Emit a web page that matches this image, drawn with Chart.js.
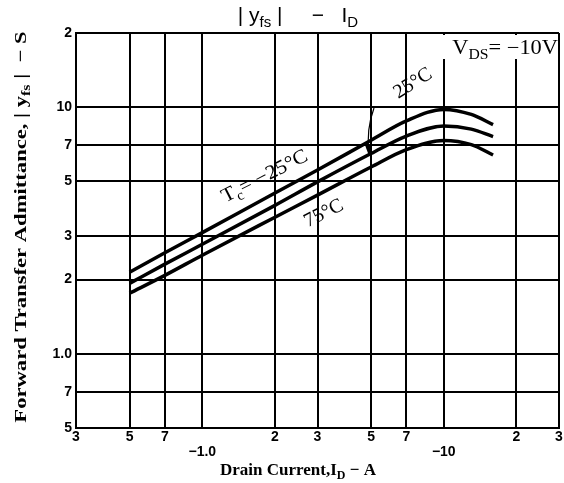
<!DOCTYPE html>
<html>
<head>
<meta charset="utf-8">
<script src="https://cdn.jsdelivr.net/npm/chart.js@4/dist/chart.umd.min.js"></script>
<style>
  html, body { margin: 0; padding: 0; background: #fff; }
  #wrap { width: 564px; height: 483px; }
</style>
</head>
<body>
<div id="wrap"><canvas id="myChart" width="564" height="483"></canvas></div>
<script>
// drain current (A, magnitude) and |yfs| (S) per case temperature
const currentA = [0.5, 0.7, 1, 2, 3, 5, 7, 10, 13, 16];
const tcMinus25 = [2.14, 2.57, 3.1, 4.49, 5.56, 7.35, 8.8, 9.8, 9.35, 8.5];
const tc25 = [1.93, 2.31, 2.78, 4.0, 4.98, 6.49, 7.64, 8.4, 8.15, 7.6];
const tc75 = [1.76, 2.08, 2.51, 3.58, 4.4, 5.72, 6.73, 7.33, 7.05, 6.4];

const xTicks = [0.3, 0.5, 0.7, 1, 2, 3, 5, 7, 10, 20, 30];
const xTickLabels = ["3", "5", "7", ["", "−1.0"], "2", "3", "5", "7", ["", "−10"], "2", "3"];
const yTicks = [0.5, 0.7, 1, 2, 3, 5, 7, 10, 20];
const yTickLabels = ["5", "7", "1.0", "2", "3", "5", "7", "10", "2"];

const toPoints = (ys) => currentA.map((x, i) => ({ x: x, y: ys[i] }));

// draws text with subscripts, parts = [[text, isSub], ...]; sx stretches it sideways
function drawRich(ctx, parts, x, y, size, family, weight, align, sx, subRatio) {
  sx = sx || 1;
  subRatio = subRatio || 0.7;
  const fontOf = (p) => weight + " " + (p[1] ? Math.round(size * subRatio) : size) + "px " + family;
  const widths = parts.map((p) => {
    ctx.font = fontOf(p);
    return ctx.measureText(p[0]).width;
  });
  const total = widths.reduce((a, b) => a + b, 0);
  let cx = align === "center" ? -total / 2 : align === "right" ? -total : 0;
  ctx.save();
  ctx.translate(x, y);
  ctx.scale(sx, 1);
  ctx.textAlign = "left";
  ctx.textBaseline = "alphabetic";
  parts.forEach((p, i) => {
    ctx.font = fontOf(p);
    ctx.fillText(p[0], cx, p[1] ? size * 0.25 : 0);
    cx += widths[i];
  });
  ctx.restore();
}

const labelsPlugin = {
  id: "labels",
  afterDraw(chart) {
    const ctx = chart.ctx;
    const serif = "'Liberation Serif', 'DejaVu Serif', serif";
    const sans = "'Liberation Sans', Arial, sans-serif";
    ctx.save();
    ctx.fillStyle = "#000";
    ctx.strokeStyle = "#000";

    // title
    drawRich(ctx, [["| y", false], ["fs", true], [" |     −   I", false], ["D", true]], 298, 22, 21, sans, "normal", "center");

    // axis titles
    drawRich(ctx, [["Drain Current,I", false], ["D", true], [" − A", false]], 298, 475, 17, serif, "bold", "center");
    ctx.save();
    ctx.translate(20, 227);
    ctx.rotate(-Math.PI / 2);
    drawRich(ctx, [["Forward Transfer Admittance, | y", false], ["fs", true], [" |  − S", false]], 0, 6, 17, serif, "bold", "center", 1.33);
    ctx.restore();

    // VDS
    ctx.fillStyle = "#fff";
    ctx.fillRect(432, 35, 125, 24);
    ctx.fillStyle = "#000";
    drawRich(ctx, [["V", false], ["DS", true], ["= −10V", false]], 558, 54, 20, serif, "normal", "right", 1.12, 0.72);

    // curve labels
    const ang = -27 * Math.PI / 180;
    ctx.save();
    ctx.translate(264, 175);
    ctx.rotate(ang);
    drawRich(ctx, [["T", false], ["c", true], ["= −25°C", false]], 0, 7, 20, serif, "normal", "center", 1.08);
    ctx.restore();

    ctx.save();
    ctx.translate(323, 212);
    ctx.rotate(ang);
    drawRich(ctx, [["75°C", false]], 0, 7, 20, serif, "normal", "center");
    ctx.restore();

    ctx.save();
    ctx.translate(412, 82);
    ctx.rotate(-32 * Math.PI / 180);
    drawRich(ctx, [["25°C", false]], 0, 7, 20, serif, "normal", "center");
    ctx.restore();

    // arrow to the 25°C curve
    ctx.lineWidth = 1.2;
    ctx.beginPath();
    ctx.moveTo(374, 108);
    ctx.quadraticCurveTo(366, 130, 369, 153);
    ctx.stroke();
    ctx.beginPath();
    ctx.moveTo(369, 156);
    ctx.lineTo(365, 145);
    ctx.lineTo(372, 146);
    ctx.closePath();
    ctx.fill();
    ctx.restore();
  },
};

const ctx = document.getElementById("myChart").getContext("2d");
const curve = (data) => ({
  data: toPoints(data),
  borderColor: "#000",
  borderWidth: 3.5,
  pointRadius: 0,
  fill: false,
  cubicInterpolationMode: "monotone",
});

const myChart = new Chart(ctx, {
  type: "line",
  data: {
    datasets: [curve(tcMinus25), curve(tc25), curve(tc75)],
  },
  options: {
    responsive: false,
    animation: false,
    layout: { padding: { left: 0, right: 5, top: 33, bottom: 0 } },
    plugins: { legend: { display: false }, tooltip: { enabled: false } },
    scales: {
      x: {
        type: "logarithmic",
        min: 0.3,
        max: 30,
        afterBuildTicks: (scale) => {
          scale.ticks = xTicks.map((v) => ({ value: v }));
        },
        afterFit: (scale) => {
          scale.height = 55;
        },
        ticks: {
          autoSkip: false,
          maxRotation: 0,
          padding: 1,
          color: "#000",
          font: { family: "'Liberation Sans', Arial, sans-serif", size: 14, weight: "bold", lineHeight: 1.1 },
          callback: (value, index) => xTickLabels[index],
        },
        grid: { color: "#000", lineWidth: 2, drawTicks: false },
        border: { color: "#000", width: 2 },
      },
      y: {
        type: "logarithmic",
        min: 0.5,
        max: 20,
        afterBuildTicks: (scale) => {
          scale.ticks = yTicks.map((v) => ({ value: v }));
        },
        afterFit: (scale) => {
          scale.width = 76;
        },
        ticks: {
          autoSkip: false,
          padding: 4,
          color: "#000",
          font: { family: "'Liberation Sans', Arial, sans-serif", size: 14, weight: "bold" },
          callback: (value, index) => yTickLabels[index],
        },
        grid: { color: "#000", lineWidth: 2, drawTicks: false },
        border: { color: "#000", width: 2 },
      },
    },
  },
  plugins: [labelsPlugin],
});
</script>
</body>
</html>
